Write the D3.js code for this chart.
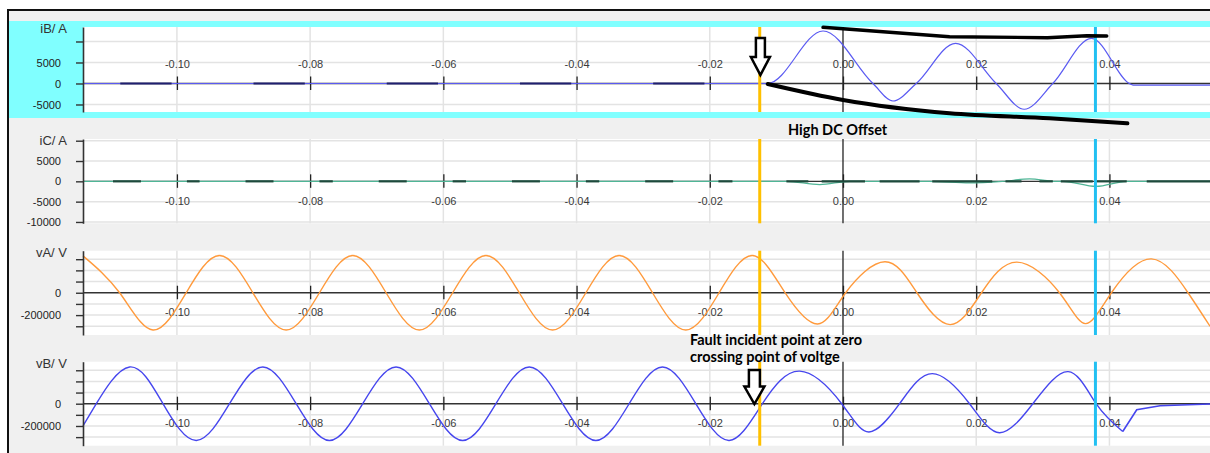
<!DOCTYPE html>
<html>
<head>
<meta charset="utf-8">
<script src="https://cdn.jsdelivr.net/npm/d3@7"></script>
<style>
body { margin: 0; background: #fff; }
</style>
</head>
<body>
<svg id="chart" width="1210" height="453"></svg>
<script>
// time axis (s) and the two cursors
var xTicks = [-0.10, -0.08, -0.06, -0.04, -0.02, 0.00, 0.02, 0.04];
var faultCursor = -0.0125;
var blueCursor = 0.0379;

// iB / A  (fault starts with a big DC offset)
var iB = [[-0.1141, 0], [-0.0113, 0], [-0.0030, 12500], [0.0045, 0], [0.0075, -4170],
  [0.0110, 0], [0.0169, 9570], [0.0230, 0], [0.0272, -6140], [0.0315, 0],
  [0.0373, 10760], [0.0431, -100], [0.0436, -400], [0.0551, -400]];
var iBDash = [[-0.1085, -0.1008], [-0.0885, -0.0808], [-0.0685, -0.0608], [-0.0485, -0.0408], [-0.0285, -0.0208]];

// iC / A  (almost nothing)
var iC = [[-0.1141, 0], [-0.0085, 0], [-0.0035, -800], [0.0010, 0], [0.0130, 0],
  [0.0190, -400], [0.0240, 0], [0.0280, 600], [0.0320, 0], [0.0330, 0],
  [0.0380, -1250], [0.0426, 0], [0.0551, 0]];
var iCDash = [[-0.1096, -0.1054], [-0.0985, -0.0966], [-0.0897, -0.0855], [-0.0786, -0.0766],
  [-0.0697, -0.0655], [-0.0586, -0.0566], [-0.0497, -0.0455], [-0.0386, -0.0366],
  [-0.0297, -0.0255], [-0.0187, -0.0166], [-0.0085, -0.0052], [-0.0032, 0.0033],
  [0.0055, 0.0115], [0.0134, 0.0224], [0.0244, 0.0268], [0.0295, 0.0315],
  [0.0327, 0.0375], [0.0381, 0.0426], [0.0456, 0.0551]];

// vA / V
var vA = [[-0.1141, 330000],
  [-0.1086, 0], [-0.1036, -333000], [-0.0986, 0], [-0.0936, 333000],
  [-0.0886, 0], [-0.0836, -333000], [-0.0786, 0], [-0.0736, 333000],
  [-0.0686, 0], [-0.0636, -333000], [-0.0586, 0], [-0.0536, 333000],
  [-0.0486, 0], [-0.0436, -333000], [-0.0386, 0], [-0.0336, 333000],
  [-0.0286, 0], [-0.0236, -333000], [-0.0186, 0], [-0.0136, 333000],
  [-0.0087, 0], [-0.0038, -280000], [0.0004, 0], [0.0063, 277000],
  [0.0111, 0], [0.0161, -285000], [0.0208, 0], [0.0261, 274000],
  [0.0325, 0], [0.0364, -276000], [0.0403, 0], [0.0463, 303000],
  [0.0518, 0], [0.0551, -300000]];

// vB / V  (fault at its zero crossing, collapses after the trip)
var vB = [[-0.1141, -200000], [-0.1121, 0], [-0.1071, 330000], [-0.1021, 0], [-0.0971, -330000],
  [-0.0921, 0], [-0.0871, 330000], [-0.0821, 0], [-0.0771, -330000],
  [-0.0721, 0], [-0.0671, 330000], [-0.0621, 0], [-0.0571, -330000],
  [-0.0521, 0], [-0.0471, 330000], [-0.0421, 0], [-0.0371, -330000],
  [-0.0321, 0], [-0.0271, 330000], [-0.0221, 0], [-0.0171, -330000],
  [-0.0121, 0], [-0.0065, 292000], [-0.0002, 0], [0.0039, -254000],
  [0.0085, 0], [0.0134, 270000], [0.0190, 0], [0.0235, -261000],
  [0.0285, 0], [0.0338, 288000], [0.0380, 0], [0.0420, -250000]];
var vBTail = [[0.0420, -250000], [0.0441, -54000], [0.0476, -18000], [0.0551, -3000]];

var iBTicks = [-5000, 0, 5000, 10000], iBLabels = [-5000, 0, 5000];
var iCTicks = [-10000, -5000, 0, 5000, 10000], iCLabels = [-10000, -5000, 0, 5000];
var vTicks = [-300000, -200000, -100000, 0, 100000, 200000, 300000], vLabels = [-200000, 0];

// hand drawn envelope over iB
var upperEnv = [[-0.0030, 13380], [0.0160, 11140], [0.0307, 10900], [0.0366, 11380], [0.0396, 11310]];
var lowerEnv = [[-0.0113, -120], [0.0000, -3930], [0.0160, -7100], [0.0310, -8290], [0.0427, -9480]];

var FONT = "Liberation Sans, Arial, sans-serif";
var svg = d3.select("#chart");
var x = d3.scaleLinear().domain([-0.1141, 0.0551]).range([83, 1210]);
var X0 = x.range()[0], X1 = x.range()[1];

svg.append("rect").attr("width", 1210).attr("height", 453).attr("fill", "#fff");
svg.append("rect").attr("x", 9).attr("y", 11).attr("width", 1201).attr("height", 442).attr("fill", "#f0f0f0");
svg.append("rect").attr("x", 9).attr("y", 21).attr("width", 1201).attr("height", 97).attr("fill", "#80ffff");
svg.append("line").attr("x1", 7).attr("x2", 1210).attr("y1", 10).attr("y2", 10).attr("stroke", "#111").attr("stroke-width", 2);
svg.append("line").attr("x1", 8).attr("x2", 8).attr("y1", 9).attr("y2", 453).attr("stroke", "#111").attr("stroke-width", 2);

var panels = [
  {title: "iB/ A", top: 27, bottom: 112, domain: [-6790, 13450], ticks: iBTicks, labels: iBLabels, above: true,
   series: [{data: iB, color: "#5a5af2", w: 1.2, curve: d3.curveMonotoneX}], dash: iBDash, dashColor: "#1f1f70"},
  {title: "iC/ A", top: 139, bottom: 223.3, domain: [-10330, 10420], ticks: iCTicks, labels: iCLabels, above: false,
   series: [{data: iC, color: "#4fb596", w: 1.2, curve: d3.curveMonotoneX}], dash: iCDash, dashColor: "#1e4a3c"},
  {title: "vA/ V", top: 250.7, bottom: 335, domain: [-378000, 376000], ticks: vTicks, labels: vLabels, above: false,
   series: [{data: vA, color: "#ff9a3c", w: 1.4, curve: d3.curveNatural}], dash: [], dashColor: ""},
  {title: "vB/ V", top: 361.7, bottom: 445.7, domain: [-377000, 377000], ticks: vTicks, labels: vLabels, above: false,
   series: [{data: vB, color: "#4646ee", w: 1.4, curve: d3.curveNatural},
            {data: vBTail, color: "#4646ee", w: 1.6, curve: d3.curveLinear}], dash: [], dashColor: ""}
];

var iBy;

panels.forEach(function(p, i) {
  var y = d3.scaleLinear().domain(p.domain).range([p.bottom, p.top]);
  if (i === 0) iBy = y;
  var g = svg.append("g");

  g.append("rect").attr("x", X0).attr("y", p.top).attr("width", X1 - X0).attr("height", p.bottom - p.top).attr("fill", "#fff");

  g.selectAll(".hgrid").data(p.ticks.filter(function(d) { return d !== 0; }))
    .enter().append("line")
      .attr("x1", X0).attr("x2", X1)
      .attr("y1", function(d) { return y(d); }).attr("y2", function(d) { return y(d); })
      .attr("stroke", "#e3e3e3").attr("stroke-width", 1.5);
  g.selectAll(".vgrid").data(xTicks.filter(function(d) { return d !== 0; }))
    .enter().append("line")
      .attr("x1", function(d) { return x(d); }).attr("x2", function(d) { return x(d); })
      .attr("y1", p.top).attr("y2", p.bottom)
      .attr("stroke", "#e3e3e3").attr("stroke-width", 1.5);

  // zero lines
  g.append("line").attr("x1", X0).attr("x2", X1).attr("y1", y(0)).attr("y2", y(0)).attr("stroke", "#333").attr("stroke-width", 1.4);
  g.append("line").attr("x1", x(0)).attr("x2", x(0)).attr("y1", p.top).attr("y2", p.bottom).attr("stroke", "#333").attr("stroke-width", 1.4);

  var ax = g.append("g")
    .attr("transform", "translate(0," + (y(0) - 7) + ")")
    .call(d3.axisBottom(x).tickValues(xTicks).tickSize(13.5).tickFormat(function(d) { return d.toFixed(2); }))
    .attr("font-family", FONT).attr("font-size", 11);
  ax.select(".domain").remove();
  ax.selectAll("line").attr("stroke", "#222").attr("stroke-width", 1.3);
  ax.selectAll("text").attr("y", p.above ? -12.5 : 26.5).attr("dy", "0.35em").attr("fill", "#3a3a3a");

  p.series.forEach(function(s) {
    g.append("path").datum(s.data)
      .attr("fill", "none").attr("stroke", s.color).attr("stroke-width", s.w)
      .attr("d", d3.line().x(function(d) { return x(d[0]); }).y(function(d) { return y(d[1]); }).curve(s.curve));
  });

  g.selectAll(".dash").data(p.dash)
    .enter().append("line")
      .attr("x1", function(d) { return x(d[0]); }).attr("x2", function(d) { return x(d[1]); })
      .attr("y1", y(0)).attr("y2", y(0))
      .attr("stroke", p.dashColor).attr("stroke-width", 2.2);

  [[faultCursor, "#ffc000"], [blueCursor, "#22c0f2"]].forEach(function(c) {
    g.append("line").attr("x1", x(c[0])).attr("x2", x(c[0])).attr("y1", p.top).attr("y2", p.bottom)
      .attr("stroke", c[1]).attr("stroke-width", 3);
  });

  var ay = g.append("g")
    .attr("transform", "translate(" + X0 + ",0)")
    .call(d3.axisLeft(y).tickValues(p.ticks).tickSize(7).tickSizeOuter(0).tickPadding(15)
      .tickFormat(function(d) { return p.labels.indexOf(d) >= 0 ? String(d) : ""; }))
    .attr("font-family", FONT).attr("font-size", 11);
  ay.select(".domain").attr("stroke", "#333").attr("stroke-width", 1.6);
  ay.selectAll("line").attr("stroke", "#333").attr("stroke-width", 1.4);
  ay.selectAll("text").attr("fill", "#222");

  g.append("text").attr("x", 67).attr("y", p.top + 1.5).attr("dy", "0.35em")
    .attr("text-anchor", "end").attr("font-family", FONT).attr("font-size", 13).attr("fill", "#333").text(p.title);
});

// annotations
var env = d3.line().x(function(d) { return x(d[0]); }).y(function(d) { return iBy(d[1]); });
svg.append("path").datum(upperEnv).attr("fill", "none").attr("stroke", "#000").attr("stroke-width", 3.4)
  .attr("stroke-linecap", "round").attr("d", env);
svg.append("path").datum(lowerEnv).attr("fill", "none").attr("stroke", "#000").attr("stroke-width", 4)
  .attr("stroke-linecap", "round").attr("d", env.curve(d3.curveMonotoneX));

function hollowArrow(cx, tipY, len, shaftW, headW, headL) {
  var top = tipY - len, hs = tipY - headL;
  return "M" + (cx - shaftW / 2) + "," + top + "H" + (cx + shaftW / 2) + "V" + hs +
    "H" + (cx + headW / 2) + "L" + cx + "," + tipY + "L" + (cx - headW / 2) + "," + hs +
    "H" + (cx - shaftW / 2) + "Z";
}
svg.append("path").attr("d", hollowArrow(x(-0.0124), iBy(2000), 37, 9, 19, 18))
  .attr("fill", "#fff").attr("stroke", "#000").attr("stroke-width", 2.5);
svg.append("path").attr("d", hollowArrow(x(-0.0133), 404, 34, 11, 20, 17.5))
  .attr("fill", "#fff").attr("stroke", "#000").attr("stroke-width", 2.5);

var note = svg.append("g").attr("font-family", "Lato, 'Open Sans', sans-serif").attr("font-weight", "bold")
  .attr("font-size", 14.5).attr("fill", "#000");
note.append("text").attr("x", 788).attr("y", 135).text("High DC Offset");
note.append("text").attr("x", 690).attr("y", 345).text("Fault incident point at zero");
note.append("text").attr("x", 690).attr("y", 362).text("crossing point of voltge");
</script>
</body>
</html>
